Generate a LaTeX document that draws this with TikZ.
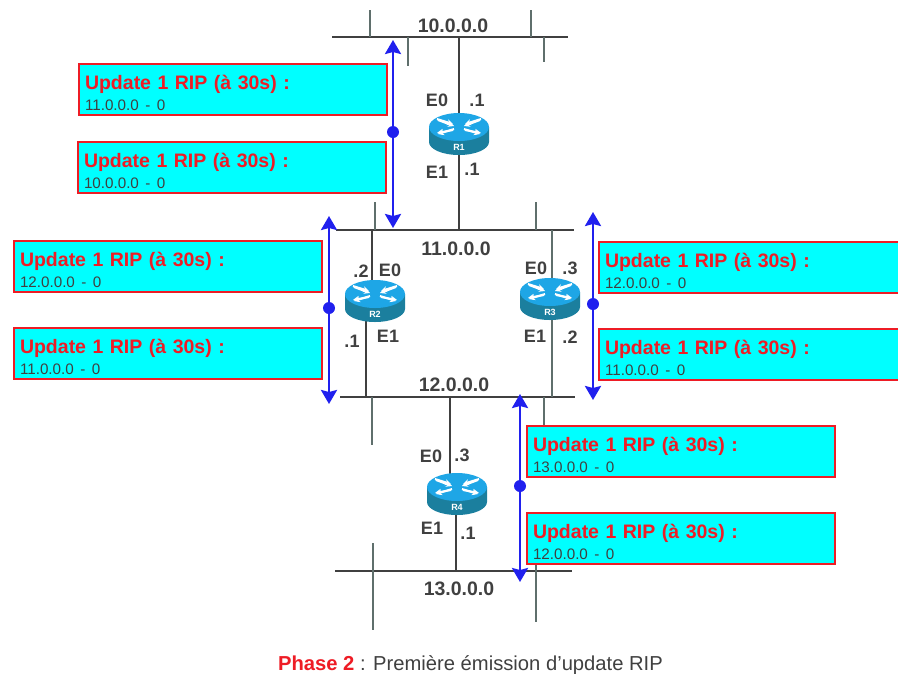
\documentclass[tikz,border=0pt]{standalone}
\usepackage{fontspec}
\setmainfont{Liberation Sans}
\usetikzlibrary{arrows.meta}
\definecolor{netgray}{HTML}{404040}
\definecolor{stubgray}{HTML}{5F6F6C}
\definecolor{arrowblue}{HTML}{2020EE}
\definecolor{boxred}{HTML}{EE1C25}
\definecolor{boxcyan}{HTML}{00FFFF}
\definecolor{routertop}{HTML}{1EA6E6}
\definecolor{routerside}{HTML}{1B7F9E}
\tikzset{
  netline/.style={draw=netgray,line width=1.8pt},
  stubline/.style={draw=stubgray,line width=1.8pt},
  netlabel/.style={font=\bfseries\fontsize{19.5}{20}\selectfont,text=netgray,inner sep=0pt},
  portlabel/.style={font=\bfseries\fontsize{18}{18}\selectfont,text=netgray,inner sep=0pt},
  updatebox/.style={draw=boxred,fill=boxcyan,line width=2.4pt,anchor=north west,outer sep=0pt,minimum height=51pt,
    text width=296pt,align=left,inner xsep=6pt,inner ysep=0pt,font=\fontsize{19.5}{21}\selectfont},
  updatearrow/.style={draw=arrowblue,line width=2.6pt,{Stealth[length=14pt,width=16pt,inset=2pt]}-{Stealth[length=14pt,width=16pt,inset=2pt]}},
  arrowdot/.style={circle,fill=arrowblue,minimum size=12pt,inner sep=0pt},
  routerbody/.style={inner sep=0pt,minimum width=60pt,minimum height=42pt},
}
\def\updatetext#1{\rule{0pt}{22pt}{\bfseries\color{boxred}Update 1 RIP (à 30s) :}\\{\fontsize{15.2}{21}\selectfont\color{netgray}#1}}
% Syntax: (center) {name} {label}
\def\router(#1,#2)#3#4{
  \begin{scope}[shift={(#1,#2)}]
    \fill[routerside] (-30,-7) -- (-30,8) arc (180:0:30 and 13) -- (30,-7) -- cycle;
    \fill[routertop] (0,-7) ellipse (30 and 14);
    \foreach \ang in {1,-1} {
      \draw[white,line width=2pt,-{Stealth[length=6pt,width=6pt]}] (-21*\ang,-14) -- (-5*\ang,-8);
      \draw[white,line width=2pt,-{Stealth[length=6pt,width=6pt]}] (5*\ang,-5) -- (21*\ang,0);
      \draw[white,line width=2pt,-{Stealth[length=6pt,width=6pt]}] (-6*\ang,-4) -- (-22*\ang,-1);
      \draw[white,line width=2pt,-{Stealth[length=6pt,width=6pt]}] (22*\ang,-15) -- (6*\ang,-10);
    }
    \node[routerbody] (#3) at (0,0) {};
    \node[inner sep=0pt,text=white,font=\bfseries\fontsize{9}{9}\selectfont] (#3 name) at (0,13) {#4};
  \end{scope}
}
\def\stub(#1,#2,#3){\draw[stubline] (#1,#2) -- (#1,#3);}

\begin{document}
\begin{tikzpicture}[x=1pt,y=-1pt]
   \useasboundingbox (0,0) rectangle (898,673);

   % networks
   \coordinate (n10l) at (332,37);  \coordinate (n10r) at (568,37);
   \coordinate (n11l) at (336,230); \coordinate (n11r) at (574,230);
   \coordinate (n12l) at (340,397); \coordinate (n12r) at (575,397);
   \coordinate (n13l) at (335,571); \coordinate (n13r) at (572,571);
   \foreach \net in {10,11,12,13} {
     \draw[netline] (n\net l) -- (n\net r);
   }

   % stubs
   \stub(370,10,37) \stub(531,10,37) \stub(408,37,66) \stub(544,37,62)
   \stub(375,202,230) \stub(536,202,230)
   \stub(372,397,445) \stub(544,397,425)
   \stub(373,543,630) \stub(536,563,622)

   % router links
   \coordinate (a1) at (459,37);  \coordinate (b1) at (459,230);
   \coordinate (a2) at (372,230); \coordinate (b2) at (372,282);
   \coordinate (c2) at (366,320); \coordinate (d2) at (366,397);
   \coordinate (a3) at (552,230); \coordinate (b3) at (552,397);
   \coordinate (a4) at (450,397); \coordinate (b4) at (450,475);
   \coordinate (c4) at (456,512); \coordinate (d4) at (456,571);
   \draw[netline] (a1) -- (b1);
   \draw[netline] (a2) -- (b2);
   \draw[netline] (c2) -- (d2);
   \draw[stubline] (a3) -- (b3);
   \draw[netline] (a4) -- (b4);
   \draw[netline] (c4) -- (d4);

   \router(459,134){R1}{R1}
   \router(375,301){R2}{R2}
   \router(550,299){R3}{R3}
   \router(457,494){R4}{R4}

   % labels
   \node[netlabel] (l10) at (453,26) {10.0.0.0};
   \node[netlabel] (l11) at (456,249) {11.0.0.0};
   \node[netlabel] (l12) at (454,385) {12.0.0.0};
   \node[netlabel] (l13) at (459,589) {13.0.0.0};

   \node[portlabel] (p1a) at (437,100) {E0};
   \node[portlabel] (p1b) at (477,100) {.1};
   \node[portlabel] (p1c) at (437,172) {E1};
   \node[portlabel] (p1d) at (472,169) {.1};
   \node[portlabel] (p2a) at (361,271) {.2};
   \node[portlabel] (p2b) at (390,270) {E0};
   \node[portlabel] (p2c) at (352,341) {.1};
   \node[portlabel] (p2d) at (388,336) {E1};
   \node[portlabel] (p3a) at (536,268) {E0};
   \node[portlabel] (p3b) at (570,268) {.3};
   \node[portlabel] (p3c) at (535,336) {E1};
   \node[portlabel] (p3d) at (570,337) {.2};
   \node[portlabel] (p4a) at (431,456) {E0};
   \node[portlabel] (p4b) at (462,455) {.3};
   \node[portlabel] (p4c) at (432,528) {E1};
   \node[portlabel] (p4d) at (468,533) {.1};

   % update messages
   \node[updatebox] (u1) at (79,64)   {\updatetext{11.0.0.0 - 0}};
   \node[updatebox] (u2) at (78,142)  {\updatetext{10.0.0.0 - 0}};
   \node[updatebox] (u3) at (14,241)  {\updatetext{12.0.0.0 - 0}};
   \node[updatebox] (u4) at (14,328)  {\updatetext{11.0.0.0 - 0}};
   \node[updatebox] (u5) at (599,242) {\updatetext{12.0.0.0 - 0}};
   \node[updatebox] (u6) at (599,329) {\updatetext{11.0.0.0 - 0}};
   \node[updatebox] (u7) at (527,426) {\updatetext{13.0.0.0 - 0}};
   \node[updatebox] (u8) at (527,513) {\updatetext{12.0.0.0 - 0}};

   % update arrows
   \foreach \name/\xpos/\ytop/\ymid/\ybot in {A/393/40/132/228,B/329/216/308/404,C/593/212/304/400,D/520/394/486/582} {
     \coordinate (\name t) at (\xpos,\ytop);
     \coordinate (\name b) at (\xpos,\ybot);
     \draw[updatearrow] (\name t) -- (\name b);
     \node[arrowdot] (\name m) at (\xpos,\ymid) {};
   }

   \node[inner sep=0pt,font=\fontsize{20.2}{20}\selectfont,text=netgray] (caption) at (470.5,665)
     {{\bfseries\color{boxred}Phase 2} : Première émission d'update RIP};
\end{tikzpicture}
\end{document}
